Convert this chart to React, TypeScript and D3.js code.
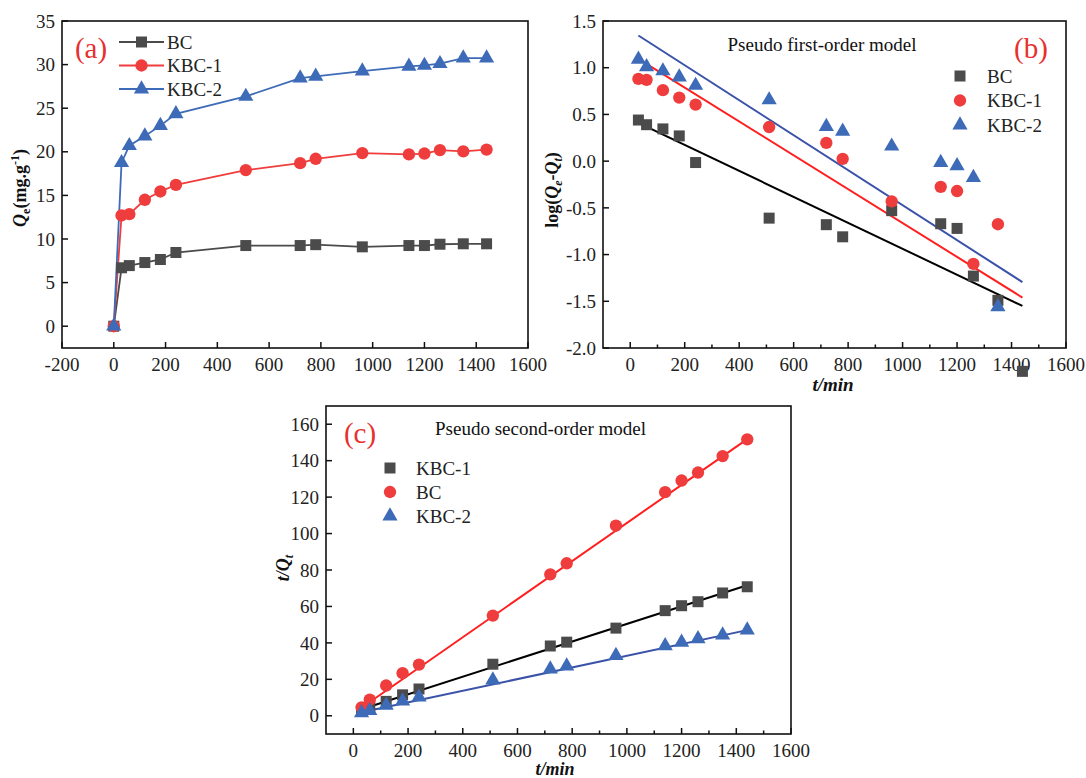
import React from "react";
import * as d3 from "d3";

// ---------- Data ----------
const timeA = [0, 30, 60, 120, 180, 240, 510, 720, 780, 960, 1140, 1200, 1260, 1350, 1440];
const qBC = [0, 6.7, 6.95, 7.3, 7.65, 8.45, 9.25, 9.25, 9.35, 9.1, 9.25, 9.25, 9.4, 9.45, 9.45];
const qKBC1 = [0, 12.7, 12.85, 14.5, 15.45, 16.2, 17.9, 18.7, 19.2, 19.85, 19.7, 19.8, 20.2, 20.05, 20.25];
const qKBC2 = [0, 18.75, 20.7, 21.8, 23.0, 24.35, 26.35, 28.45, 28.65, 29.25, 29.8, 29.9, 30.1, 30.75, 30.75];

const timeB = [30, 60, 120, 180, 240, 510, 720, 780, 960, 1140, 1200, 1260, 1350, 1440];
const logBC = [0.44, 0.39, 0.345, 0.27, -0.015, -0.61, -0.68, -0.81, -0.53, -0.67, -0.72, -1.23, -1.49, -2.25];
const logKBC1 = [0.88, 0.87, 0.76, 0.68, 0.605, 0.365, 0.195, 0.025, -0.43, -0.275, -0.32, -1.1, -0.675];
const logKBC2 = [1.09, 1.01, 0.965, 0.9, 0.81, 0.655, 0.37, 0.32, 0.16, -0.015, -0.05, -0.175, -1.56];
const fitTime = [30, 1440];
const fitLogBC = [0.41, -1.55];
const fitLogKBC1 = [1.095, -1.46];
const fitLogKBC2 = [1.345, -1.295];

const timeC = [30, 60, 120, 180, 240, 510, 720, 780, 960, 1140, 1200, 1260, 1350, 1440];
const tqRed = [4.6, 8.8, 16.6, 23.4, 28.1, 55.0, 77.6, 83.7, 104.3, 122.7, 129.1, 133.5, 142.5, 151.7];
const tqBlack = [2.4, 4.7, 7.9, 11.5, 14.7, 28.3, 38.3, 40.4, 48.1, 57.7, 60.4, 62.6, 67.4, 70.8];
const tqBlue = [1.6, 2.9, 5.7, 8.1, 10.2, 19.6, 25.6, 27.3, 33.0, 38.4, 40.3, 42.2, 44.3, 47.0];
const fitTqRed = [4.4, 151.8];
const fitTqBlack = [3.6, 71.6];
const fitTqBlue = [1.9, 47.0];

const ticksA_x = [-200, 0, 200, 400, 600, 800, 1000, 1200, 1400, 1600];
const ticksA_y = [0, 5, 10, 15, 20, 25, 30, 35];
const ticksB_x = [0, 200, 400, 600, 800, 1000, 1200, 1400, 1600];
const minorB_x = [100, 300, 500, 700, 900, 1100, 1300, 1500];
const ticksB_y = [-2.0, -1.5, -1.0, -0.5, 0.0, 0.5, 1.0, 1.5];
const ticksC_x = [0, 200, 400, 600, 800, 1000, 1200, 1400, 1600];
const minorC_x = [100, 300, 500, 700, 900, 1100, 1300, 1500];
const ticksC_y = [0, 20, 40, 60, 80, 100, 120, 140, 160];

const GRAY = "#4b4b4b";
const RED = "#ef3d3d";
const BLUE = "#3e6bb8";
const FIT_RED = "#ff1f1f";
const FIT_BLUE = "#3a52a8";
const FONT = "Liberation Serif, Times New Roman, serif";

type Shape = "square" | "circle" | "triangle";

function Marker({ x, y, shape, color, s = 1 }: { x: number; y: number; shape: Shape; color: string; s?: number }) {
  const sym = shape === "square" ? d3.symbolSquare : shape === "circle" ? d3.symbolCircle : d3.symbolTriangle;
  const size = shape === "square" ? 121 : shape === "circle" ? 120 : 100;
  const p = d3.symbol().type(sym).size(size * s)();
  return <path d={p || ""} transform={`translate(${x},${y})`} fill={color} />;
}

function Frame({ x, y, xTicks, yTicks, xMinor = [], yFmt }: any) {
  const [l, r] = x.range();
  const [b, t] = y.range();
  return (
    <g fontFamily={FONT} fontSize={19} fill="#222">
      <rect x={l} y={t} width={r - l} height={b - t} fill="none" stroke="#111" strokeWidth={1.6} />
      {xTicks.map((v: number) => (
        <g key={"x" + v}>
          <line x1={x(v)} x2={x(v)} y1={b} y2={b - 6} stroke="#111" strokeWidth={1.5} />
          <text x={x(v)} y={b + 23} textAnchor="middle">{v}</text>
        </g>
      ))}
      {xMinor.map((v: number) => (
        <line key={"m" + v} x1={x(v)} x2={x(v)} y1={b} y2={b - 3.5} stroke="#111" strokeWidth={1.5} />
      ))}
      {yTicks.map((v: number) => (
        <g key={"y" + v}>
          <line x1={l} x2={l + 6} y1={y(v)} y2={y(v)} stroke="#111" strokeWidth={1.5} />
          <text x={l - 7} y={y(v)} dy="0.35em" textAnchor="end">{yFmt ? yFmt(v) : v}</text>
        </g>
      ))}
    </g>
  );
}

export default function App() {
  const xa = d3.scaleLinear().domain([-200, 1600]).range([62, 528]);
  const ya = d3.scaleLinear().domain([-2.5, 35]).range([348, 21]);
  const xb = d3.scaleLinear().domain([-100, 1600]).range([603, 1066]);
  const yb = d3.scaleLinear().domain([-2, 1.5]).range([348, 21]);
  const xc = d3.scaleLinear().domain([-100, 1600]).range([326, 791]);
  const yc = d3.scaleLinear().domain([-10, 170]).range([734, 406]);

  const lineA = (ys: number[]) =>
    d3.line<number>().x((_, i) => xa(timeA[i])).y((v) => ya(v))(ys) || "";
  const fitB = (ys: number[]) => d3.line<number>().x((_, i) => xb(fitTime[i])).y((v) => yb(v))(ys) || "";
  const fitC = (ys: number[]) => d3.line<number>().x((_, i) => xc(fitTime[i])).y((v) => yc(v))(ys) || "";

  const seriesA = [
    { name: "BC", data: qBC, color: GRAY, shape: "square" as Shape },
    { name: "KBC-1", data: qKBC1, color: RED, shape: "circle" as Shape },
    { name: "KBC-2", data: qKBC2, color: BLUE, shape: "triangle" as Shape },
  ];
  const seriesB = [
    { name: "BC", data: logBC, color: GRAY, shape: "square" as Shape },
    { name: "KBC-1", data: logKBC1, color: RED, shape: "circle" as Shape },
    { name: "KBC-2", data: logKBC2, color: BLUE, shape: "triangle" as Shape },
  ];
  const seriesC = [
    { name: "KBC-1", data: tqBlack, color: GRAY, shape: "square" as Shape },
    { name: "BC", data: tqRed, color: RED, shape: "circle" as Shape },
    { name: "KBC-2", data: tqBlue, color: BLUE, shape: "triangle" as Shape },
  ];

  return (
    <svg width={1086} height={778} style={{ position: "absolute", left: 0, top: 0, background: "#fff" }}>
      <rect width={1086} height={778} fill="#fff" />
      {/* ---------- Panel (a) ---------- */}
      <Frame x={xa} y={ya} xTicks={ticksA_x} yTicks={ticksA_y} />
      {seriesA.map((s) => (
        <path key={"la" + s.name} d={lineA(s.data)} fill="none" stroke={s.color} strokeWidth={1.8} />
      ))}
      {seriesA.map((s) =>
        s.data.map((v, i) => <Marker key={s.name + i} x={xa(timeA[i])} y={ya(v)} shape={s.shape} color={s.color} />)
      )}
      <text x={91} y={58} fontFamily={FONT} fontSize={29} fill="#e8302f" textAnchor="middle">(a)</text>
      {seriesA.map((s, i) => (
        <g key={"lga" + s.name}>
          <line x1={119} x2={164} y1={42 + i * 23.5} y2={42 + i * 23.5} stroke={s.color} strokeWidth={1.8} />
          <Marker x={141.5} y={42 + i * 23.5} shape={s.shape} color={s.color} />
          <text x={167} y={42 + i * 23.5} dy="0.35em" fontFamily={FONT} fontSize={19} fill="#222">{s.name}</text>
        </g>
      ))}
      <text transform="translate(26,188) rotate(-90)" textAnchor="middle" fontFamily={FONT} fontSize={18} fontWeight="bold" fill="#111">
        <tspan fontStyle="italic">Q</tspan>
        <tspan fontSize={12} dy={4}>e</tspan>
        <tspan dy={-4}>(mg.g</tspan>
        <tspan fontSize={12} dy={-7}>-1</tspan>
        <tspan dy={7}>)</tspan>
      </text>

      {/* ---------- Panel (b) ---------- */}
      <Frame x={xb} y={yb} xTicks={ticksB_x} yTicks={ticksB_y} xMinor={minorB_x} yFmt={(v: number) => d3.format(".1f")(v).replace("−", "-")} />
      <path d={fitB(fitLogBC)} stroke="#000" strokeWidth={2} fill="none" />
      <path d={fitB(fitLogKBC1)} stroke={FIT_RED} strokeWidth={2} fill="none" />
      <path d={fitB(fitLogKBC2)} stroke={FIT_BLUE} strokeWidth={2} fill="none" />
      {seriesB.map((s) =>
        s.data.map((v, i) => <Marker key={"b" + s.name + i} x={xb(timeB[i])} y={yb(v)} shape={s.shape} color={s.color} />)
      )}
      <text x={822} y={51} textAnchor="middle" fontFamily={FONT} fontSize={19} fill="#111">Pseudo first-order model</text>
      <text x={1031} y={58} textAnchor="middle" fontFamily={FONT} fontSize={29} fill="#e8302f">(b)</text>
      {seriesB.map((s, i) => (
        <g key={"lgb" + s.name}>
          <Marker x={960} y={76 + i * 24.5} shape={s.shape} color={s.color} />
          <text x={987} y={76 + i * 24.5} dy="0.35em" fontFamily={FONT} fontSize={19} fill="#222">{s.name}</text>
        </g>
      ))}
      <text transform="translate(558,190) rotate(-90)" textAnchor="middle" fontFamily={FONT} fontSize={18} fontWeight="bold" fill="#111">
        <tspan>log(</tspan>
        <tspan fontStyle="italic">Q</tspan>
        <tspan fontSize={12} fontStyle="italic" dy={4}>e</tspan>
        <tspan dy={-4}>-</tspan>
        <tspan fontStyle="italic">Q</tspan>
        <tspan fontSize={12} fontStyle="italic" dy={4}>t</tspan>
        <tspan dy={-4}>)</tspan>
      </text>
      <text x={833} y={391} textAnchor="middle" fontFamily={FONT} fontSize={19} fontWeight="bold" fontStyle="italic" fill="#111">t/min</text>

      {/* ---------- Panel (c) ---------- */}
      <Frame x={xc} y={yc} xTicks={ticksC_x} yTicks={ticksC_y} xMinor={minorC_x} />
      <path d={fitC(fitTqRed)} stroke={FIT_RED} strokeWidth={2} fill="none" />
      <path d={fitC(fitTqBlack)} stroke="#000" strokeWidth={2} fill="none" />
      <path d={fitC(fitTqBlue)} stroke={FIT_BLUE} strokeWidth={2} fill="none" />
      {seriesC.map((s) =>
        s.data.map((v, i) => <Marker key={"c" + s.name + i} x={xc(timeC[i])} y={yc(v)} shape={s.shape} color={s.color} />)
      )}
      <text x={435} y={435} fontFamily={FONT} fontSize={19} fill="#111">Pseudo second-order model</text>
      <text x={360} y={443} textAnchor="middle" fontFamily={FONT} fontSize={29} fill="#e8302f">(c)</text>
      {seriesC.map((s, i) => (
        <g key={"lgc" + s.name}>
          <Marker x={390} y={468 + i * 24} shape={s.shape} color={s.color} />
          <text x={416} y={468 + i * 24} dy="0.35em" fontFamily={FONT} fontSize={19} fill="#222">{s.name}</text>
        </g>
      ))}
      <text transform="translate(289,568) rotate(-90)" textAnchor="middle" fontFamily={FONT} fontSize={18} fontWeight="bold" fontStyle="italic" fill="#111">
        <tspan>t/Q</tspan>
        <tspan fontSize={12} dy={4}>t</tspan>
      </text>
      <text x={555} y={775} textAnchor="middle" fontFamily={FONT} fontSize={18} fontWeight="bold" fontStyle="italic" fill="#111">t/min</text>
    </svg>
  );
}
